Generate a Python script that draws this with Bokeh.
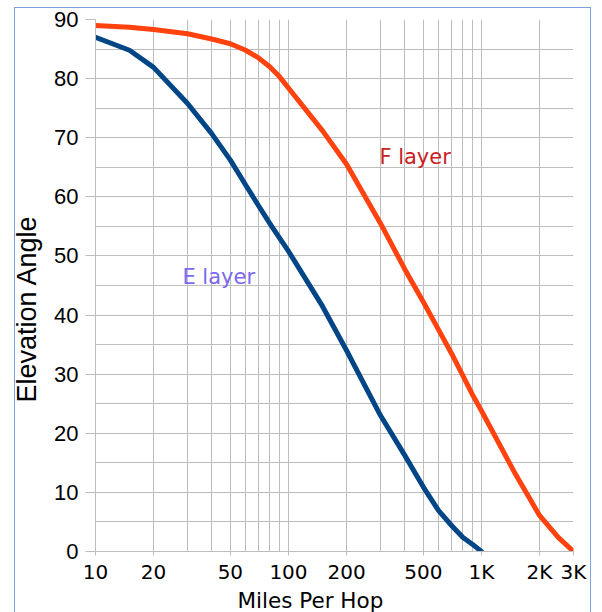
from bokeh.plotting import figure
from bokeh.models import FixedTicker, Range1d, Label, Title, InlineStyleSheet
from bokeh.embed import file_html
from bokeh.resources import INLINE

# E layer (blue) curve
e_miles = [10, 15, 20, 30, 40, 50, 60, 70, 80, 90, 100, 150, 200, 300, 400, 500, 600, 700, 800, 900, 1000]
e_angle = [87, 84.8, 81.9, 75.8, 70.7, 66.2, 62, 58.5, 55.5, 53, 50.8, 41.5, 34, 23, 16.3, 10.9, 6.9, 4.4, 2.4, 1.2, 0]

# F layer (orange) curve
f_miles = [10, 15, 20, 30, 40, 50, 60, 70, 80, 90, 100, 150, 200, 300, 400, 500, 600, 700, 800, 900, 1000, 1500, 2000, 2500, 3000]
f_angle = [89, 88.7, 88.3, 87.6, 86.7, 85.9, 84.8, 83.5, 82.0, 80.3, 78.4, 71.2, 65.5, 55.5, 47.8, 42.2, 37.5, 33.5, 29.8, 26.5, 23.8, 13.1, 6.1, 2.4, 0]

x_major = [10, 20, 50, 100, 200, 500, 1000, 2000, 3000]
x_labels = ["10", "20", "50", "100", "200", "500", "1K", "2K", "3K"]
x_minor = [30, 40, 60, 70, 80, 90, 300, 400, 600, 700, 800, 900]
y_major = [0, 10, 20, 30, 40, 50, 60, 70, 80, 90]
y_minor = [5, 15, 25, 35, 45, 55, 65, 75, 85]

GRID = "#bdbdbd"
BORDER = "#7f9fdb"

p = figure(width=602, height=612, x_axis_type="log",
           x_range=Range1d(10, 3000), y_range=Range1d(0, 90),
           output_backend="svg", toolbar_location=None,
           min_border_left=95, min_border_right=29,
           min_border_top=19, min_border_bottom=61)
# thin light-blue frame around the whole chart (left, top, right), drawn behind the canvas
p.stylesheets = [InlineStyleSheet(css=(
    ":host { background-color: white; "
    f"background-image: linear-gradient({BORDER}, {BORDER}), "
    f"linear-gradient({BORDER}, {BORDER}), linear-gradient({BORDER}, {BORDER}); "
    "background-size: 1px 620px, 577px 1px, 1px 620px; "
    "background-position: 14px 7px, 14px 7px, 590px 7px; "
    "background-repeat: no-repeat; }"))]
p.outline_line_color = None
p.background_fill_color = "white"
p.border_fill_color = None

p.xaxis.ticker = FixedTicker(ticks=x_major, minor_ticks=x_minor)
p.xaxis.major_label_overrides = {v: s for v, s in zip(x_major, x_labels)}
p.yaxis.ticker = FixedTicker(ticks=y_major, minor_ticks=y_minor)

for ax in (p.xaxis, p.yaxis):
    ax.axis_line_color = GRID
    ax.major_tick_line_color = GRID
    ax.minor_tick_line_color = None
    ax.major_tick_in = 0
    ax.major_label_text_color = "black"

p.xaxis.major_tick_out = 4
p.xaxis.major_label_standoff = 4
p.xaxis.major_label_text_font = "DejaVu Sans"
p.xaxis.major_label_text_font_size = "20px"

p.yaxis.major_tick_out = 10
p.yaxis.major_label_standoff = 7
p.yaxis.major_label_text_font = "Liberation Sans"
p.yaxis.major_label_text_font_size = "22px"

for g in (p.xgrid, p.ygrid):
    g.grid_line_color = GRID
    g.minor_grid_line_color = GRID

p.line(f_miles, f_angle, line_color="#ff420e", line_width=5, line_join="round", line_cap="round")
p.line(e_miles, e_angle, line_color="#004586", line_width=5, line_join="round", line_cap="round")

p.add_layout(Label(x=296, y=66.7, text="F layer", text_color="#c9211e",
                   text_font="DejaVu Sans", text_font_size="21px",
                   text_baseline="middle", text_align="left"))
p.add_layout(Label(x=28.2, y=46.4, text="E layer", text_color="#7b68ee",
                   text_font="DejaVu Sans", text_font_size="21px",
                   text_baseline="middle", text_align="left"))

xt = Title(text="Miles Per Hop", align="left", offset=142, vertical_align="bottom",
           text_font="DejaVu Sans", text_font_size="21.5px",
           text_font_style="normal", text_color="black", standoff=-2)
p.add_layout(xt, "below")
yt = Title(text="Elevation Angle", align="left", offset=149, vertical_align="top",
           text_font="Liberation Sans", text_font_size="27px",
           text_font_style="normal", text_color="black", standoff=16)
p.add_layout(yt, "left")

open("out.html", "w").write(file_html(p, INLINE))
